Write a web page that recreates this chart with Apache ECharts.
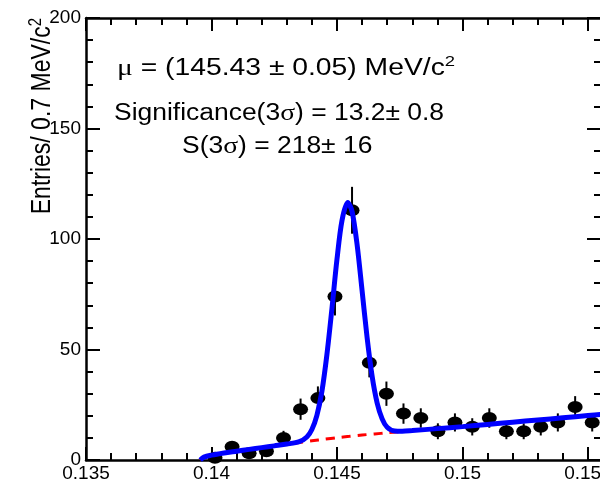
<!DOCTYPE html>
<html>
<head>
<meta charset="utf-8">
<script src="https://cdn.jsdelivr.net/npm/echarts@6/dist/echarts.min.js"></script>
<style>html,body{margin:0;padding:0;background:#fff;}#c{width:600px;height:484px;}</style>
</head>
<body>
<div id="c"></div>
<script>
// Data
const xCenters = [0.14014, 0.14082, 0.14150, 0.14219, 0.14287, 0.14355, 0.14424, 0.14492, 0.14560, 0.14629, 0.14697, 0.14765, 0.14834, 0.14902, 0.14970, 0.15039, 0.15107, 0.15175, 0.15244, 0.15312, 0.15380, 0.15449, 0.15517];
const counts   = [1, 6, 3, 4, 10, 23, 28, 74, 113, 44, 30, 21, 19, 13, 17, 15, 19, 13, 13, 15, 17, 24, 17];
const errors   = [1.0, 2.4, 1.7, 2.0, 3.2, 4.8, 5.3, 8.6, 10.6, 6.6, 5.5, 4.6, 4.4, 3.6, 4.1, 3.9, 4.4, 3.6, 3.6, 3.9, 4.1, 4.9, 4.1];

const fitX = [0.13955, 0.1397, 0.1400, 0.1405, 0.1410, 0.1415, 0.1420, 0.1425, 0.1430, 0.1435, 0.1438, 0.1440, 0.1442, 0.1444, 0.1446, 0.1448, 0.1450, 0.1452, 0.14543, 0.1456, 0.1458, 0.1460, 0.1462, 0.1464, 0.1466, 0.1468, 0.1470, 0.1473, 0.1476, 0.1480, 0.1490, 0.1500, 0.1510, 0.1520, 0.1530, 0.1540, 0.1550, 0.1556];
const fitY = [0, 1.3, 2.2, 3.2, 4.0, 4.8, 5.6, 6.4, 7.2, 8.3, 10.4, 13.8, 20.2, 31.1, 47.8, 68.6, 90.8, 108.4, 116.5, 112.5, 97.6, 76.7, 55.4, 37.9, 25.8, 18.6, 14.8, 13.1, 13.0, 13.3, 14.2, 15.1, 16.1, 17.1, 18.1, 19.1, 20.1, 20.7];

const bgX = [0.13955, 0.1397, 0.1400, 0.1405, 0.1410, 0.1415, 0.1420, 0.1425, 0.1430, 0.1435, 0.1440, 0.1445, 0.1450, 0.1455, 0.1460, 0.1465, 0.1470, 0.1475, 0.1480, 0.1490, 0.1500, 0.1510, 0.1520, 0.1530, 0.1540, 0.1550, 0.1556];
const bgY = [0, 1.3, 2.2, 3.2, 4.0, 4.8, 5.6, 6.4, 7.2, 7.9, 8.7, 9.4, 10.1, 10.7, 11.3, 11.8, 12.3, 12.8, 13.3, 14.2, 15.1, 16.1, 17.1, 18.1, 19.1, 20.1, 20.7];

const xRange = [0.135, 0.15552];
const yRange = [0, 200];
const yTitle = 'Entries/ 0.7 MeV/c';
const muText = ['\u03bc', ' = (145.43 \u00b1 0.05) MeV/c', '2'];
const sigText = ['Significance(3', '\u03c3', ') = 13.2\u00b1 0.8'];
const sText = ['S(3', '\u03c3', ') = 218\u00b1 16'];

const FONT = 'Liberation Sans';
const chart = echarts.init(document.getElementById('c'), null, {renderer: 'canvas'});

function mkX(pos, showLabel) {
  return {
    type: 'value', position: pos, min: xRange[0], max: xRange[1], interval: 0.005,
    axisLine: {show: true, onZero: false, lineStyle: {color: '#000', width: 2.5}},
    axisTick: {show: true, inside: true, length: 13, lineStyle: {color: '#000', width: 2}},
    minorTick: {show: true, splitNumber: 5, length: 7, lineStyle: {color: '#000', width: 2}},
    splitLine: {show: false},
    axisLabel: {show: showLabel, color: '#000', fontFamily: FONT, fontSize: 19, lineHeight: 14, margin: 7,
      showMaxLabel: false, hideOverlap: false, alignMinLabel: 'center',
      formatter: v => String(+v.toFixed(3))}
  };
}
function mkY(pos, showLabel) {
  return {
    type: 'value', position: pos, min: yRange[0], max: yRange[1], interval: 50,
    axisLine: {show: true, onZero: false, lineStyle: {color: '#000', width: 2.5}},
    axisTick: {show: true, inside: true, length: 14, lineStyle: {color: '#000', width: 2}},
    minorTick: {show: true, splitNumber: 5, length: 7, lineStyle: {color: '#000', width: 2}},
    splitLine: {show: false},
    axisLabel: {show: showLabel, color: '#000', fontFamily: FONT, fontSize: 19, lineHeight: 12, margin: 5, hideOverlap: false}
  };
}

const points = xCenters.map((x, i) => [x, counts[i], errors[i]]);

chart.setOption({
  backgroundColor: '#fff',
  animation: false,
  grid: {left: 86, top: 18, width: 515, height: 442, containLabel: false, outerBoundsMode: 'none'},
  xAxis: [mkX('bottom', true), mkX('top', false)],
  yAxis: [mkY('left', true), mkY('right', false)],
  series: [
    {
      type: 'custom', xAxisIndex: 0, yAxisIndex: 0, z: 2,
      data: points,
      renderItem: (params, api) => {
        const x = api.value(0), y = api.value(1), e = api.value(2);
        const p1 = api.coord([x, y - e]);
        const p2 = api.coord([x, y + e]);
        return {type: 'line', shape: {x1: p1[0], y1: p1[1], x2: p2[0], y2: p2[1]},
          style: {stroke: '#000', lineWidth: 2}};
      }
    },
    {
      type: 'scatter', xAxisIndex: 0, yAxisIndex: 0, z: 3,
      data: points.map(p => [p[0], p[1]]),
      symbol: 'circle', symbolSize: [15, 12],
      itemStyle: {color: '#000', opacity: 1}
    },
    {
      type: 'line', xAxisIndex: 0, yAxisIndex: 0, z: 4,
      data: bgX.map((x, i) => [x, bgY[i]]),
      showSymbol: false, smooth: 0.3,
      lineStyle: {color: '#ff0000', width: 3, type: [9, 7]}
    },
    {
      type: 'line', xAxisIndex: 0, yAxisIndex: 0, z: 5,
      data: fitX.map((x, i) => [x, fitY[i]]),
      showSymbol: false, smooth: 0.3,
      lineStyle: {color: '#0000ff', width: 5}
    }
  ],
  graphic: [
    {
      type: 'text', x: 42, y: 18, rotation: Math.PI / 2, scaleY: 1.2, z: 10,
      style: {
        text: '{a|' + yTitle + '}{sup|2}', align: 'right', verticalAlign: 'middle',
        rich: {
          a: {fontFamily: FONT, fontSize: 23, fill: '#000'},
          sup: {fontFamily: FONT, fontSize: 15, fill: '#000', verticalAlign: 'top', padding: [0, 0, 10, 0]}
        }
      }
    },
    {
      type: 'text', x: 117, y: 69, scaleX: 1.23, z: 10,
      style: {
        text: '{g|' + muText[0] + '}{a|' + muText[1] + '}{sup|' + muText[2] + '}', align: 'left', verticalAlign: 'middle',
        rich: {
          g: {fontFamily: 'Liberation Serif', fontSize: 24, fill: '#000'},
          a: {fontFamily: FONT, fontSize: 23, fill: '#000'},
          sup: {fontFamily: FONT, fontSize: 15, fill: '#000', padding: [0, 0, 14, 0]}
        }
      }
    },
    {
      type: 'text', x: 114, y: 114, scaleX: 1.15, z: 10,
      style: {
        text: '{a|' + sigText[0] + '}{g|' + sigText[1] + '}{a|' + sigText[2] + '}', align: 'left', verticalAlign: 'middle',
        rich: {
          g: {fontFamily: 'Liberation Serif', fontSize: 24, fill: '#000'},
          a: {fontFamily: FONT, fontSize: 23, fill: '#000'}
        }
      }
    },
    {
      type: 'text', x: 182, y: 147, scaleX: 1.15, z: 10,
      style: {
        text: '{a|' + sText[0] + '}{g|' + sText[1] + '}{a|' + sText[2] + '}', align: 'left', verticalAlign: 'middle',
        rich: {
          g: {fontFamily: 'Liberation Serif', fontSize: 24, fill: '#000'},
          a: {fontFamily: FONT, fontSize: 23, fill: '#000'}
        }
      }
    }
  ]
});
</script>
</body>
</html>
